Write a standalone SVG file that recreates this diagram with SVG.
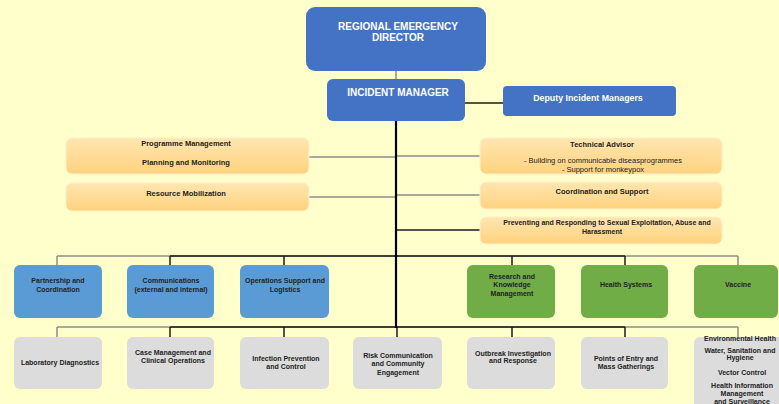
<svg xmlns="http://www.w3.org/2000/svg" width="779" height="404" viewBox="0 0 779 404">
<defs>
<linearGradient id="og" x1="0" y1="0" x2="0" y2="1">
<stop offset="0" stop-color="#FFE6B0"/>
<stop offset="1" stop-color="#FFD27E"/>
</linearGradient>
<style>
text{font-family:"Liberation Sans",Arial,sans-serif;font-weight:bold;text-anchor:middle;fill:#222}
.hd{fill:#4472C4}
.ht{fill:#fff;font-size:10px}
.or{fill:url(#og);stroke:#FFEFCB;stroke-width:1}
.bl{fill:#5B9BD5}
.gr{fill:#70AD47}
.gy{fill:#DCDCDC}
.s{font-size:7px}
.m{font-size:7.5px}
.n{font-weight:normal}
.dk{stroke:#1a1a1a;stroke-width:1.5;fill:none}
.lg{stroke:#8c8c8c;stroke-width:1.5;fill:none}
</style>
</defs>
<rect width="779" height="404" fill="#FFFFCC"/>
<g id="connectors">
<line class="lg" x1="396" y1="71" x2="396" y2="79"/>
<line class="dk" x1="465" y1="103" x2="503" y2="103"/>
<line class="lg" x1="309" y1="157" x2="396" y2="157"/>
<line class="lg" x1="309" y1="197" x2="396" y2="197"/>
<line class="lg" x1="396" y1="156" x2="480" y2="156"/>
<line class="lg" x1="396" y1="195" x2="480" y2="195"/>
<line class="dk" x1="396" y1="230" x2="480" y2="230"/>
<line class="lg" x1="57" y1="256" x2="738" y2="256"/>
<line class="dk" x1="170" y1="256" x2="625" y2="256"/>
<line class="lg" x1="57" y1="256" x2="57" y2="265"/>
<line class="dk" x1="170" y1="256" x2="170" y2="265"/>
<line class="dk" x1="284" y1="256" x2="284" y2="265"/>
<line class="dk" x1="512" y1="256" x2="512" y2="265"/>
<line class="dk" x1="625" y1="256" x2="625" y2="265"/>
<line class="lg" x1="738" y1="256" x2="738" y2="265"/>
<line class="lg" x1="57" y1="327" x2="738" y2="327"/>
<line class="dk" x1="170" y1="327" x2="625" y2="327"/>
<line class="lg" x1="57" y1="327" x2="57" y2="337"/>
<line class="dk" x1="170" y1="327" x2="170" y2="337"/>
<line class="dk" x1="284" y1="327" x2="284" y2="337"/>
<line class="dk" x1="397" y1="327" x2="397" y2="337"/>
<line class="dk" x1="512" y1="327" x2="512" y2="337"/>
<line class="dk" x1="625" y1="327" x2="625" y2="337"/>
<line class="lg" x1="738" y1="327" x2="738" y2="337"/>
<line x1="396" y1="121" x2="396" y2="328" stroke="#000" stroke-width="2.2"/>
</g>
<g id="director">
<rect class="hd" x="306" y="7" width="180" height="64" rx="9"/>
<text class="ht" x="398" y="29.5">REGIONAL EMERGENCY</text>
<text class="ht" x="398" y="41">DIRECTOR</text>
</g>
<g id="incident-manager">
<rect class="hd" x="327" y="79" width="138" height="42" rx="6"/>
<text class="ht" x="398" y="96">INCIDENT MANAGER</text>
</g>
<g id="deputy">
<rect class="hd" x="503" y="86" width="173" height="30" rx="4"/>
<text x="588" y="100.5" style="font-size:8.8px;fill:#fff">Deputy Incident Managers</text>
</g>
<g id="programme">
<rect class="or" x="66" y="138" width="243" height="36" rx="6"/>
<text class="m" x="186" y="145.5">Programme Management</text>
<text class="m" x="186" y="164.5">Planning and Monitoring</text>
</g>
<g id="resource">
<rect class="or" x="66" y="183" width="243" height="28" rx="6"/>
<text class="m" x="186" y="195.5">Resource Mobilization</text>
</g>
<g id="technical">
<rect class="or" x="480" y="138" width="242" height="36" rx="6"/>
<text class="m" x="602" y="146.5">Technical Advisor</text>
<text class="m n" x="603" y="162.5">- Building on communicable diseasprogrammes</text>
<text class="m n" x="603" y="172">- Support for monkeypox</text>
</g>
<g id="coordination">
<rect class="or" x="480" y="182" width="242" height="27" rx="6"/>
<text class="m" x="602" y="193.5">Coordination and Support</text>
</g>
<g id="psea">
<rect class="or" x="480" y="217" width="242" height="27" rx="6"/>
<text class="s" x="607" y="224.5">Preventing and Responding to Sexual Exploitation, Abuse and</text>
<text class="s" x="602" y="233.5">Harassment</text>
</g>
<g id="partnership">
<rect class="bl" x="14" y="265" width="88" height="53" rx="6"/>
<text class="s" x="58" y="283">Partnership and</text>
<text class="s" x="58" y="291.5">Coordination</text>
</g>
<g id="communications">
<rect class="bl" x="127" y="265" width="87" height="53" rx="6"/>
<text class="s" x="171" y="283">Communications</text>
<text class="s" x="171" y="291.5">(external and internal)</text>
</g>
<g id="operations">
<rect class="bl" x="240" y="265" width="89" height="53" rx="6"/>
<text class="s" x="285" y="283">Operations Support and</text>
<text class="s" x="285" y="291.5">Logistics</text>
</g>
<g id="research">
<rect class="gr" x="467" y="265" width="88" height="53" rx="6"/>
<text class="s" x="512" y="278.5">Research and</text>
<text class="s" x="512" y="287">Knowledge</text>
<text class="s" x="512" y="295.5">Management</text>
</g>
<g id="health-systems">
<rect class="gr" x="581" y="265" width="87" height="53" rx="6"/>
<text class="s" x="626" y="287">Health Systems</text>
</g>
<g id="vaccine">
<rect class="gr" x="694" y="265" width="84" height="53" rx="6"/>
<text class="s" x="738" y="287">Vaccine</text>
</g>
<g id="laboratory">
<rect class="gy" x="14" y="337" width="88" height="52" rx="6"/>
<text class="s" x="60" y="364.5">Laboratory Diagnostics</text>
</g>
<g id="case-management">
<rect class="gy" x="127" y="337" width="87" height="52" rx="6"/>
<text class="s" x="173" y="354.5">Case Management and</text>
<text class="s" x="173" y="362.5">Clinical Operations</text>
</g>
<g id="ipc">
<rect class="gy" x="240" y="337" width="89" height="52" rx="6"/>
<text class="s" x="286" y="360.5">Infection Prevention</text>
<text class="s" x="286" y="368.5">and Control</text>
</g>
<g id="risk-communication">
<rect class="gy" x="353" y="337" width="89" height="52" rx="6"/>
<text class="s" x="398" y="357.5">Risk Communication</text>
<text class="s" x="398" y="366">and Community</text>
<text class="s" x="398" y="374.5">Engagement</text>
</g>
<g id="outbreak">
<rect class="gy" x="467" y="337" width="88" height="52" rx="6"/>
<text class="s" x="513" y="355.5">Outbreak Investigation</text>
<text class="s" x="513" y="362.5">and Response</text>
</g>
<g id="points-of-entry">
<rect class="gy" x="581" y="337" width="87" height="52" rx="6"/>
<text class="s" x="626" y="360.5">Points of Entry and</text>
<text class="s" x="626" y="368.5">Mass Gatherings</text>
</g>
<g id="environmental">
<rect class="gy" x="694" y="337" width="90" height="80" rx="6"/>
<text class="s" x="740" y="341">Environmental Health</text>
<text class="s" x="740" y="352.5">Water, Sanitation and</text>
<text class="s" x="740" y="360">Hygiene</text>
<text class="s" x="742" y="374.5">Vector Control</text>
<text class="s" x="742" y="388">Health Information</text>
<text class="s" x="742" y="396">Management</text>
<text class="s" x="742" y="404">and Surveillance</text>
</g>
</svg>
